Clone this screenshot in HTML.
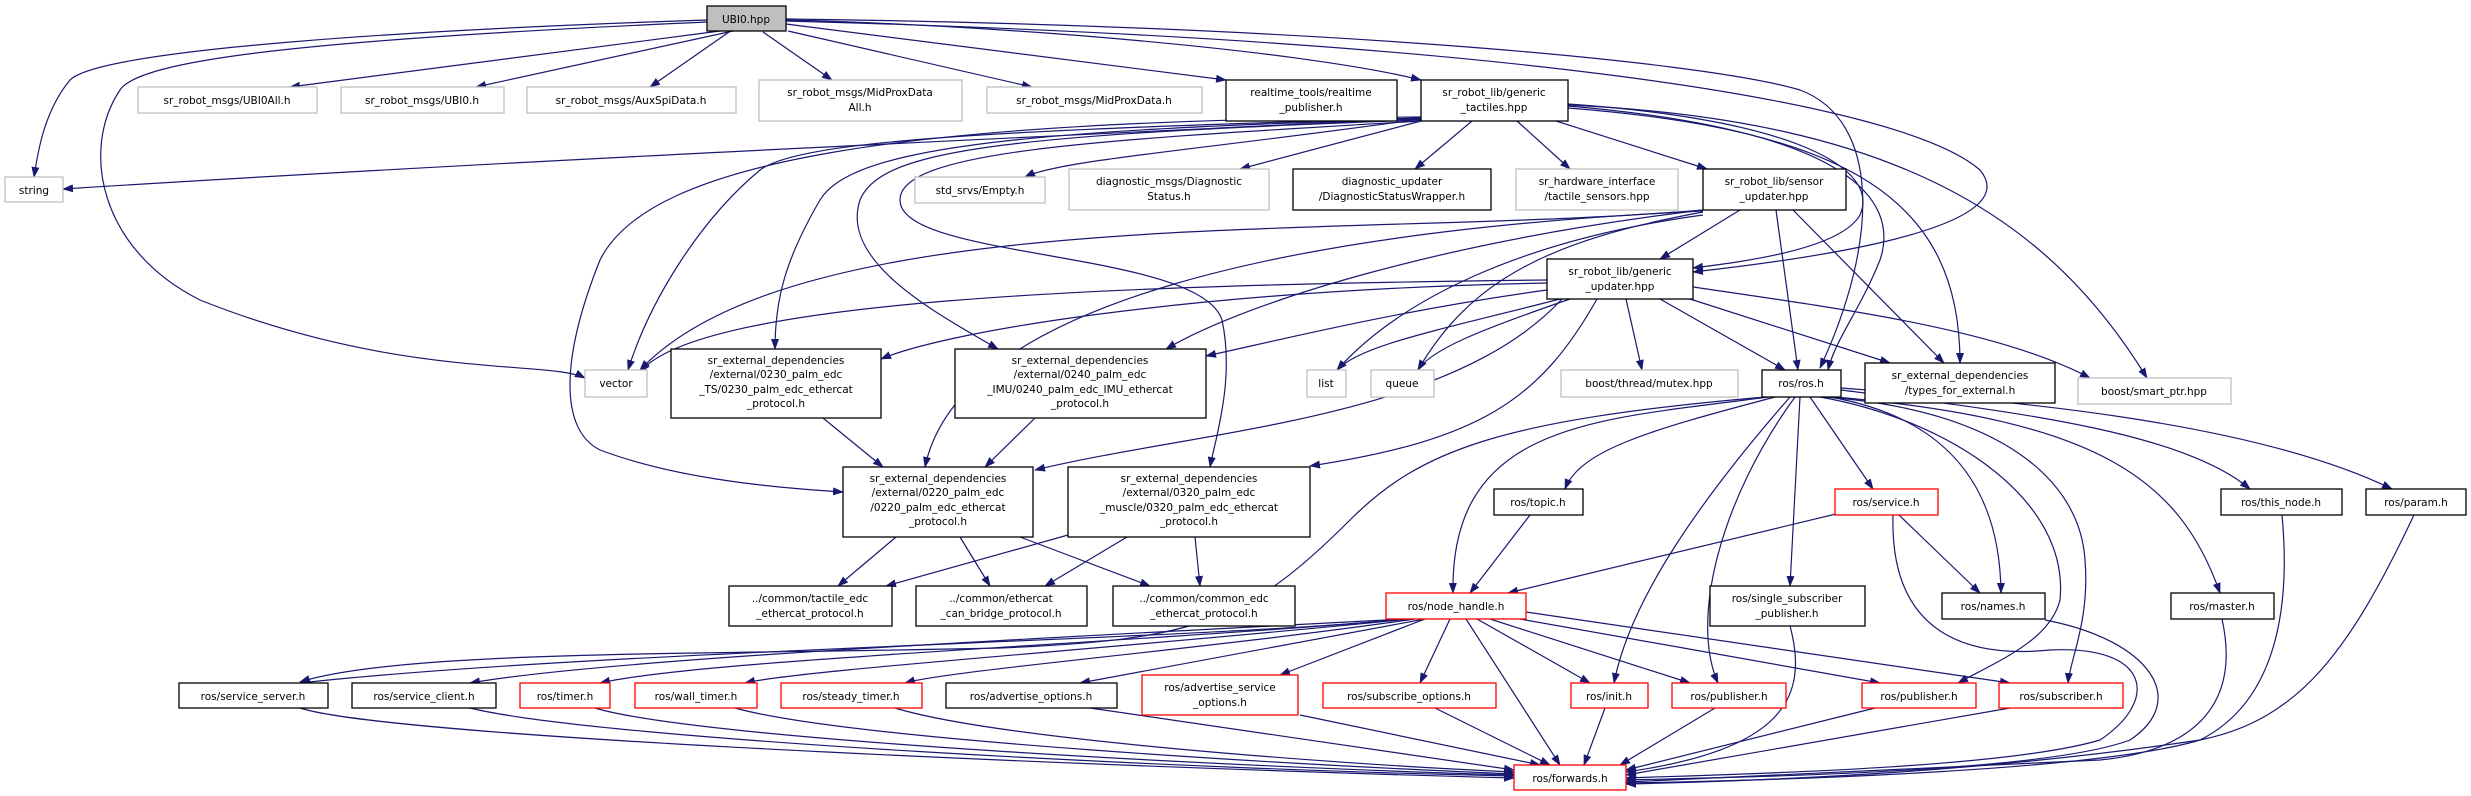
<!DOCTYPE html>
<html><head><meta charset="utf-8"><style>
html,body{margin:0;padding:0;background:#fff;}
svg{display:block;}
text{font-family:"DejaVu Sans","Liberation Sans",sans-serif;font-size:10.5px;fill:#000;}
.e{fill:none;stroke:#191970;stroke-width:1.2;marker-end:url(#a);}
.n{fill:#fff;stroke:#000;stroke-width:1.3;}
.g{fill:#fff;stroke:#bfbfbf;stroke-width:1.3;}
.r{fill:#fff;stroke:#ff0000;stroke-width:1.3;}
</style></head><body>
<svg width="2471" height="796" viewBox="0 0 2471 796" xmlns="http://www.w3.org/2000/svg">
<defs><marker id="a" markerWidth="11" markerHeight="8" refX="10" refY="4" orient="auto" markerUnits="userSpaceOnUse"><path d="M0,0 L11,4 L0,8 z" fill="#191970"/></marker></defs>
<g>
<path class="e" d="M707,20 C400,30 100,50 70,80 C45,110 38,150 34,177"/>
<path class="e" d="M707,22 C300,40 140,60 120,90 C80,150 100,250 200,300 C400,380 550,360 585,378"/>
<path class="e" d="M720,31 L290,87"/>
<path class="e" d="M733,31 L476,87"/>
<path class="e" d="M729,32 L650,87"/>
<path class="e" d="M763,32 L832,80"/>
<path class="e" d="M788,31 L1032,87"/>
<path class="e" d="M786,24 L1226,80"/>
<path class="e" d="M786,20 C1000,25 1300,50 1421,80"/>
<path class="e" d="M786,19 C1300,25 1700,60 1800,90 C1880,120 1880,240 1820,368"/>
<path class="e" d="M786,21 C1500,40 1900,100 1980,170 C2030,230 1800,260 1693,272"/>
<path class="e" d="M1421,118 C1200,130 600,155 63,189"/>
<path class="e" d="M1421,118 C1000,130 800,140 760,170 C700,220 650,300 628,370"/>
<path class="e" d="M1421,119 C1000,130 850,150 820,200 C785,260 775,300 775,349"/>
<path class="e" d="M1421,120 C1000,135 880,150 860,200 C840,260 930,310 998,349"/>
<path class="e" d="M1421,117 C900,120 650,160 600,260 C560,360 560,430 600,450 C680,480 780,488 843,492"/>
<path class="e" d="M1421,121 C1100,140 900,150 900,200 C900,260 1200,250 1222,320 C1235,380 1215,440 1210,467"/>
<path class="e" d="M1421,119 C1200,150 1060,160 1025,177"/>
<path class="e" d="M1421,121 L1240,169"/>
<path class="e" d="M1472,121 L1415,169"/>
<path class="e" d="M1517,121 L1570,169"/>
<path class="e" d="M1556,121 L1707,169"/>
<path class="e" d="M1568,104 C1800,120 1880,170 1860,215 C1840,250 1740,262 1693,268"/>
<path class="e" d="M1568,106 C1850,130 1900,200 1880,260 C1860,310 1835,340 1828,370"/>
<path class="e" d="M1568,108 C1850,130 1960,200 1960,363"/>
<path class="e" d="M1568,105 C1900,120 2050,220 2147,378"/>
<path class="e" d="M1740,210 L1660,259"/>
<path class="e" d="M1776,210 L1798,370"/>
<path class="e" d="M1793,210 L1944,363"/>
<path class="e" d="M1703,215 C1520,240 1400,300 1337,370"/>
<path class="e" d="M1703,212 C1550,240 1470,280 1418,370"/>
<path class="e" d="M1703,210 C1350,240 800,200 640,370"/>
<path class="e" d="M1703,210 C1450,240 1250,300 1166,349"/>
<path class="e" d="M1703,211 C1300,230 960,300 925,467"/>
<path class="e" d="M1547,280 C1100,285 700,300 640,372"/>
<path class="e" d="M1547,283 C1200,290 950,330 881,359"/>
<path class="e" d="M1547,290 C1400,310 1280,340 1206,356"/>
<path class="e" d="M1560,299 C1440,330 1360,345 1337,370"/>
<path class="e" d="M1570,299 C1480,330 1430,350 1418,370"/>
<path class="e" d="M1626,299 L1642,370"/>
<path class="e" d="M1660,299 L1785,370"/>
<path class="e" d="M1690,299 L1890,363"/>
<path class="e" d="M1693,287 C1850,310 2000,330 2090,378"/>
<path class="e" d="M1562,299 C1450,420 1200,430 1035,470"/>
<path class="e" d="M1597,299 C1540,400 1480,440 1310,466"/>
<path class="e" d="M823,418 L883,467"/>
<path class="e" d="M1035,418 L985,467"/>
<path class="e" d="M896,537 L838,586"/>
<path class="e" d="M960,537 L990,586"/>
<path class="e" d="M1020,537 L1150,586"/>
<path class="e" d="M1068,535 L886,586"/>
<path class="e" d="M1127,537 L1045,586"/>
<path class="e" d="M1195,537 L1200,586"/>
<path class="e" d="M1765,397 C1500,420 1420,450 1350,520 C1250,620 1200,640 1000,648 C700,655 400,650 300,682"/>
<path class="e" d="M1768,397 C1600,420 1450,420 1453,593"/>
<path class="e" d="M1775,397 C1650,430 1580,450 1565,489"/>
<path class="e" d="M1790,397 C1700,500 1630,600 1614,683"/>
<path class="e" d="M1795,397 C1720,500 1690,620 1718,683"/>
<path class="e" d="M1800,397 L1790,586"/>
<path class="e" d="M1810,397 L1873,489"/>
<path class="e" d="M1820,397 C1950,420 2070,500 2060,600 C2050,640 2000,660 1958,683"/>
<path class="e" d="M1825,397 C2000,410 2080,480 2085,560 C2090,620 2070,660 2068,683"/>
<path class="e" d="M1830,397 C1960,420 2000,500 2001,593"/>
<path class="e" d="M1835,397 C2100,420 2180,480 2220,593"/>
<path class="e" d="M1841,390 C2000,410 2180,430 2250,489"/>
<path class="e" d="M1841,388 C2000,400 2250,420 2392,489"/>
<path class="e" d="M1893,515 C1890,620 1950,660 2050,650 C2150,645 2160,700 2100,740 C2000,770 1700,775 1626,778"/>
<path class="e" d="M1530,515 L1470,593"/>
<path class="e" d="M1840,513 L1508,593"/>
<path class="e" d="M1899,515 L1980,593"/>
<path class="e" d="M1405,619 C1200,640 600,650 300,683"/>
<path class="e" d="M1405,619 C1000,640 600,660 470,683"/>
<path class="e" d="M1410,619 C1100,645 700,660 600,683"/>
<path class="e" d="M1410,619 C1100,650 800,670 745,683"/>
<path class="e" d="M1415,619 C1200,650 950,670 905,683"/>
<path class="e" d="M1425,619 L1080,683"/>
<path class="e" d="M1425,619 L1280,675"/>
<path class="e" d="M1450,619 L1420,683"/>
<path class="e" d="M1477,619 L1590,683"/>
<path class="e" d="M1490,619 L1690,683"/>
<path class="e" d="M1520,619 L1880,683"/>
<path class="e" d="M1526,612 L2010,683"/>
<path class="e" d="M1466,619 L1560,765"/>
<path class="e" d="M300,708 C400,740 1200,770 1514,778"/>
<path class="e" d="M470,708 C600,740 1200,770 1514,776"/>
<path class="e" d="M595,708 C700,740 1250,768 1514,775"/>
<path class="e" d="M735,708 C850,740 1300,765 1514,774"/>
<path class="e" d="M895,708 C1000,740 1350,765 1514,772"/>
<path class="e" d="M1090,708 L1514,770"/>
<path class="e" d="M1300,715 L1540,765"/>
<path class="e" d="M1435,708 L1550,765"/>
<path class="e" d="M1605,708 L1584,765"/>
<path class="e" d="M1715,708 L1620,765"/>
<path class="e" d="M1875,708 L1626,770"/>
<path class="e" d="M2010,708 L1626,775"/>
<path class="e" d="M2045,620 C2150,640 2190,700 2130,740 C2050,770 1800,776 1626,780"/>
<path class="e" d="M2222,619 C2240,700 2200,750 2100,760 L1626,782"/>
<path class="e" d="M2282,515 C2290,600 2280,700 2200,740 C2100,770 1800,780 1626,783"/>
<path class="e" d="M2414,515 C2350,650 2300,720 2200,740 C2000,770 1800,780 1626,784"/>
<path class="e" d="M1790,626 C1810,700 1780,750 1626,772"/>
</g>
<g text-anchor="middle">
<rect x="707" y="6" width="79" height="25" fill="#bfbfbf" stroke="#000" stroke-width="1.3"/><text x="746" y="23">UBI0.hpp</text>
<rect class="g" x="138" y="87" width="179" height="26"/><text x="227" y="104">sr_robot_msgs/UBI0All.h</text>
<rect class="g" x="341" y="87" width="163" height="26"/><text x="422" y="104">sr_robot_msgs/UBI0.h</text>
<rect class="g" x="527" y="87" width="209" height="26"/><text x="631" y="104">sr_robot_msgs/AuxSpiData.h</text>
<rect class="g" x="759" y="80" width="203" height="41"/><text x="860" y="96">sr_robot_msgs/MidProxData</text><text x="860" y="111">All.h</text>
<rect class="g" x="987" y="87" width="215" height="26"/><text x="1094" y="104">sr_robot_msgs/MidProxData.h</text>
<rect class="n" x="1226" y="80" width="171" height="41"/><text x="1311" y="96">realtime_tools/realtime</text><text x="1311" y="111">_publisher.h</text>
<rect class="n" x="1421" y="80" width="147" height="41"/><text x="1494" y="96">sr_robot_lib/generic</text><text x="1494" y="111">_tactiles.hpp</text>
<rect class="g" x="5" y="177" width="58" height="25"/><text x="34" y="194">string</text>
<rect class="g" x="915" y="177" width="130" height="26"/><text x="980" y="194">std_srvs/Empty.h</text>
<rect class="g" x="1069" y="169" width="200" height="41"/><text x="1169" y="185">diagnostic_msgs/Diagnostic</text><text x="1169" y="200">Status.h</text>
<rect class="n" x="1293" y="169" width="198" height="41"/><text x="1392" y="185">diagnostic_updater</text><text x="1392" y="200">/DiagnosticStatusWrapper.h</text>
<rect class="g" x="1516" y="169" width="162" height="41"/><text x="1597" y="185">sr_hardware_interface</text><text x="1597" y="200">/tactile_sensors.hpp</text>
<rect class="n" x="1703" y="169" width="143" height="41"/><text x="1774" y="185">sr_robot_lib/sensor</text><text x="1774" y="200">_updater.hpp</text>
<rect class="n" x="1547" y="259" width="146" height="40"/><text x="1620" y="275">sr_robot_lib/generic</text><text x="1620" y="290">_updater.hpp</text>
<rect class="g" x="585" y="370" width="62" height="27"/><text x="616" y="387">vector</text>
<rect class="n" x="671" y="349" width="210" height="69"/><text x="776" y="364">sr_external_dependencies</text><text x="776" y="378">/external/0230_palm_edc</text><text x="776" y="393">_TS/0230_palm_edc_ethercat</text><text x="776" y="407">_protocol.h</text>
<rect class="n" x="955" y="349" width="251" height="69"/><text x="1080" y="364">sr_external_dependencies</text><text x="1080" y="378">/external/0240_palm_edc</text><text x="1080" y="393">_IMU/0240_palm_edc_IMU_ethercat</text><text x="1080" y="407">_protocol.h</text>
<rect class="g" x="1307" y="370" width="39" height="27"/><text x="1326" y="387">list</text>
<rect class="g" x="1371" y="370" width="63" height="27"/><text x="1402" y="387">queue</text>
<rect class="g" x="1561" y="370" width="177" height="27"/><text x="1649" y="387">boost/thread/mutex.hpp</text>
<rect class="n" x="1762" y="370" width="79" height="27"/><text x="1801" y="387">ros/ros.h</text>
<rect class="n" x="1865" y="363" width="190" height="40"/><text x="1960" y="379">sr_external_dependencies</text><text x="1960" y="394">/types_for_external.h</text>
<rect class="g" x="2078" y="378" width="153" height="26"/><text x="2154" y="395">boost/smart_ptr.hpp</text>
<rect class="n" x="843" y="467" width="190" height="70"/><text x="938" y="482">sr_external_dependencies</text><text x="938" y="496">/external/0220_palm_edc</text><text x="938" y="511">/0220_palm_edc_ethercat</text><text x="938" y="525">_protocol.h</text>
<rect class="n" x="1068" y="467" width="242" height="70"/><text x="1189" y="482">sr_external_dependencies</text><text x="1189" y="496">/external/0320_palm_edc</text><text x="1189" y="511">_muscle/0320_palm_edc_ethercat</text><text x="1189" y="525">_protocol.h</text>
<rect class="n" x="1494" y="489" width="89" height="26"/><text x="1538" y="506">ros/topic.h</text>
<rect class="r" x="1835" y="489" width="103" height="26"/><text x="1886" y="506">ros/service.h</text>
<rect class="n" x="2221" y="489" width="121" height="26"/><text x="2281" y="506">ros/this_node.h</text>
<rect class="n" x="2366" y="489" width="100" height="26"/><text x="2416" y="506">ros/param.h</text>
<rect class="n" x="729" y="586" width="163" height="40"/><text x="810" y="602">../common/tactile_edc</text><text x="810" y="617">_ethercat_protocol.h</text>
<rect class="n" x="916" y="586" width="171" height="40"/><text x="1001" y="602">../common/ethercat</text><text x="1001" y="617">_can_bridge_protocol.h</text>
<rect class="n" x="1113" y="586" width="182" height="40"/><text x="1204" y="602">../common/common_edc</text><text x="1204" y="617">_ethercat_protocol.h</text>
<rect class="r" x="1386" y="593" width="140" height="26"/><text x="1456" y="610">ros/node_handle.h</text>
<rect class="n" x="1710" y="586" width="155" height="40"/><text x="1787" y="602">ros/single_subscriber</text><text x="1787" y="617">_publisher.h</text>
<rect class="n" x="1942" y="593" width="103" height="26"/><text x="1993" y="610">ros/names.h</text>
<rect class="n" x="2171" y="593" width="103" height="26"/><text x="2222" y="610">ros/master.h</text>
<rect class="n" x="179" y="683" width="149" height="25"/><text x="253" y="700">ros/service_server.h</text>
<rect class="n" x="352" y="683" width="144" height="25"/><text x="424" y="700">ros/service_client.h</text>
<rect class="r" x="520" y="683" width="90" height="25"/><text x="565" y="700">ros/timer.h</text>
<rect class="r" x="635" y="683" width="122" height="25"/><text x="696" y="700">ros/wall_timer.h</text>
<rect class="r" x="781" y="683" width="141" height="25"/><text x="851" y="700">ros/steady_timer.h</text>
<rect class="n" x="946" y="683" width="171" height="25"/><text x="1031" y="700">ros/advertise_options.h</text>
<rect class="r" x="1142" y="675" width="156" height="40"/><text x="1220" y="691">ros/advertise_service</text><text x="1220" y="706">_options.h</text>
<rect class="r" x="1323" y="683" width="173" height="25"/><text x="1409" y="700">ros/subscribe_options.h</text>
<rect class="r" x="1571" y="683" width="77" height="25"/><text x="1609" y="700">ros/init.h</text>
<rect class="r" x="1672" y="683" width="114" height="25"/><text x="1729" y="700">ros/publisher.h</text>
<rect class="r" x="1862" y="683" width="114" height="25"/><text x="1919" y="700">ros/publisher.h</text>
<rect class="r" x="1999" y="683" width="124" height="25"/><text x="2061" y="700">ros/subscriber.h</text>
<rect class="r" x="1514" y="765" width="112" height="25"/><text x="1570" y="782">ros/forwards.h</text>
</g>
</svg>
</body></html>
